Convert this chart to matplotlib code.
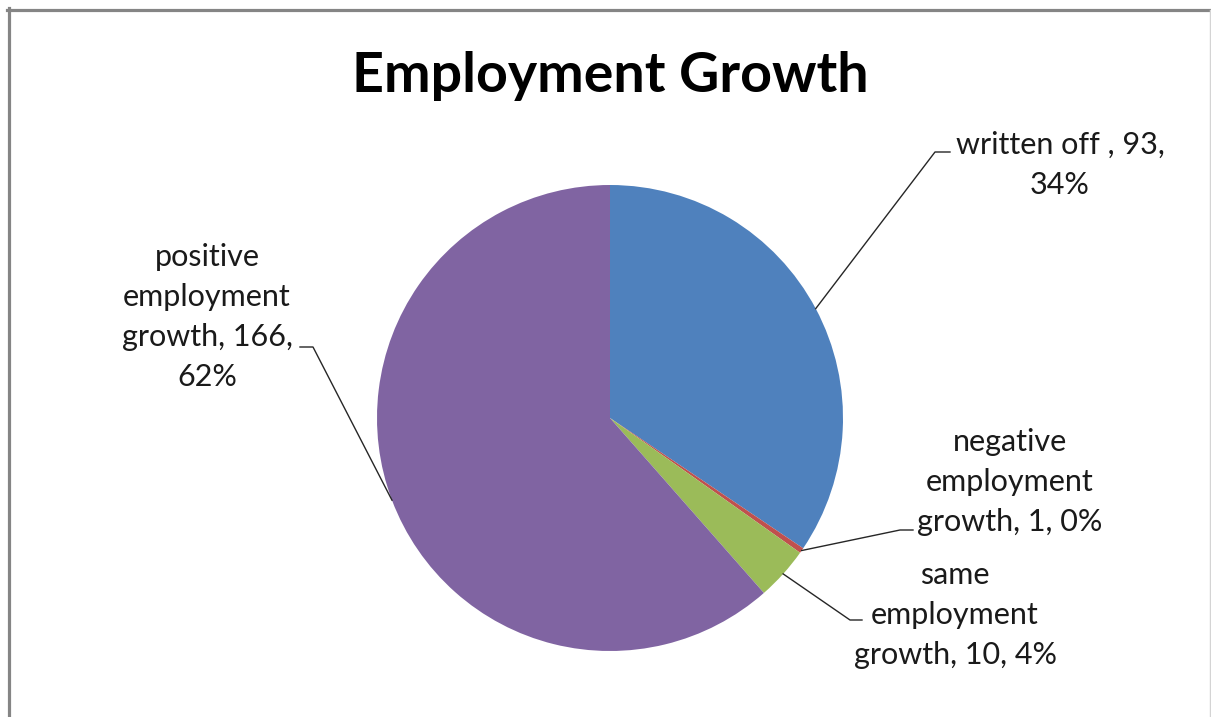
import numpy as np
import matplotlib
matplotlib.use("Agg")
import matplotlib.pyplot as plt
from matplotlib.lines import Line2D

# slices, clockwise from 12 o'clock
categories = ["written off ", "negative employment growth", "same employment growth",
              "positive employment growth"]
counts = [93, 1, 10, 166]
percents = ["34%", "0%", "4%", "62%"]
label_text = ["written off , 93,\n34%",
              "negative\nemployment\ngrowth, 1, 0%",
              "same\nemployment\ngrowth, 10, 4%",
              "positive\nemployment\ngrowth, 166,\n62%"]
colors = ["#4F81BD", "#C0504D", "#9BBB59", "#8064A2"]

W, H = 1211, 717
fig = plt.figure(figsize=(W / 100, H / 100), dpi=100)
ax = fig.add_axes([0, 0, 1, 1])
ax.set_aspect("equal")

cx, cy, r = 610, H - 418, 233
wedges, _ = ax.pie(counts, colors=colors, startangle=90, counterclock=False,
                   center=(cx, cy), radius=r, frame=True,
                   wedgeprops=dict(linewidth=0))
ax.set_xlim(0, W)
ax.set_ylim(0, H)
ax.axis("off")

# elbow of leader line, end of horizontal tick, text centre
elbows = [((935, H - 152), (950, H - 152)),
          ((900, H - 530), (913, H - 530)),
          ((850, H - 620), (862, H - 620)),
          ((313, H - 347), (300, H - 347))]
text_pos = [(1060, H - 165), (1010, H - 482), (955, H - 615), (207, H - 317)]

for w, (e1, e2), (tx, ty), txt in zip(wedges, elbows, text_pos, label_text):
    mid = np.deg2rad((w.theta1 + w.theta2) / 2)
    ax_, ay_ = cx + r * np.cos(mid), cy + r * np.sin(mid)
    ax.plot([ax_, e1[0], e2[0]], [ay_, e1[1], e2[1]], color="#262626", lw=1)
    ax.text(tx, ty, txt, ha="center", va="center", multialignment="center",
            fontsize=22, family="Lato", color="#1a1a1a", linespacing=1.52)

ax.text(610, H - 76, "Employment Growth", ha="center", va="center",
        fontsize=40, fontweight="bold", family="Lato", color="black")

# chart frame
fig.add_artist(Line2D([8.5 / W, 8.5 / W], [0, (H - 8) / H], color="#858585", lw=2.3,
                      transform=fig.transFigure))
fig.add_artist(Line2D([7 / W, 1210 / W], [(H - 9.5) / H, (H - 9.5) / H], color="#858585",
                      lw=2.3, transform=fig.transFigure))
fig.add_artist(Line2D([1210 / W, 1210 / W], [0, (H - 10) / H], color="#d4d4d4", lw=1,
                      transform=fig.transFigure))

fig.savefig("out.png", dpi=100)
